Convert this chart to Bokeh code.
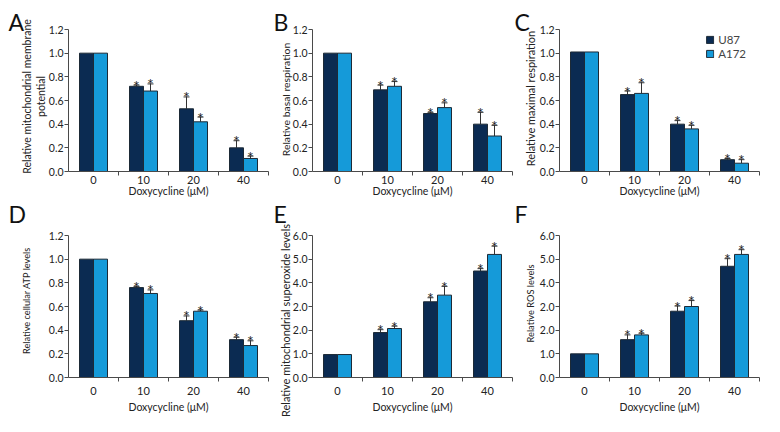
import math
import numpy as np
from bokeh.plotting import figure
from bokeh.layouts import row, column
from bokeh.models import (Range1d, FixedTicker, ColumnDataSource, Whisker, TeeHead,
                          Label, Legend, LegendItem, PrintfTickFormatter)
from bokeh.transform import dodge
from bokeh.core.properties import value
from bokeh.embed import file_html
from bokeh.resources import INLINE

FONT = "Lato"

doses = ["0", "10", "20", "40"]
cells = ["U87", "A172"]
cell_colors = ["#0b2b52", "#159ad9"]
x_title = "Doxycycline (\u03bcM)"

letters = ["A", "B", "C", "D", "E", "F"]
ylabels = ["Relative mitochondrial membrane\npotential",
           "Relative basal respiration",
           "Relative maximal respiration",
           "Relative cellular ATP levels",
           "Relative mitochondrial superoxide levels",
           "Relative ROS levels"]

# A: mitochondrial membrane potential
mmp_u87 = [1.00, 0.72, 0.53, 0.20]
mmp_u87_err = [0.0, 0.01, 0.10, 0.06]
mmp_a172 = [1.00, 0.68, 0.42, 0.11]
mmp_a172_err = [0.0, 0.06, 0.04, 0.02]
# B: basal respiration
basal_u87 = [1.00, 0.69, 0.49, 0.40]
basal_u87_err = [0.0, 0.04, 0.01, 0.10]
basal_a172 = [1.00, 0.72, 0.54, 0.30]
basal_a172_err = [0.0, 0.04, 0.04, 0.09]
# C: maximal respiration
max_u87 = [1.01, 0.65, 0.40, 0.10]
max_u87_err = [0.0, 0.03, 0.03, 0.01]
max_a172 = [1.01, 0.66, 0.36, 0.07]
max_a172_err = [0.0, 0.09, 0.03, 0.03]
# D: cellular ATP
atp_u87 = [1.00, 0.76, 0.48, 0.32]
atp_u87_err = [0.0, 0.01, 0.04, 0.02]
atp_a172 = [1.00, 0.71, 0.56, 0.27]
atp_a172_err = [0.0, 0.03, 0.01, 0.04]
# E: mitochondrial superoxide
sox_u87 = [0.97, 1.90, 3.20, 4.50]
sox_u87_err = [0.0, 0.12, 0.17, 0.10]
sox_a172 = [0.97, 2.07, 3.48, 5.20]
sox_a172_err = [0.0, 0.10, 0.37, 0.35]
# F: ROS
ros_u87 = [1.00, 1.60, 2.80, 4.70]
ros_u87_err = [0.0, 0.20, 0.22, 0.32]
ros_a172 = [1.00, 1.80, 3.00, 5.20]
ros_a172_err = [0.0, 0.07, 0.25, 0.20]

ticks_small = [0.0, 0.2, 0.4, 0.6, 0.8, 1.0, 1.2]
ticks_large = [0.0, 1.0, 2.0, 3.0, 4.0, 5.0, 6.0]
large_overrides = {3.0: "2.0"}   # as printed in the original figure

panels = [
    (mmp_u87, mmp_u87_err, mmp_a172, mmp_a172_err, ticks_small, {}),
    (basal_u87, basal_u87_err, basal_a172, basal_a172_err, ticks_small, {}),
    (max_u87, max_u87_err, max_a172, max_a172_err, ticks_small, {}),
    (atp_u87, atp_u87_err, atp_a172, atp_a172_err, ticks_small, {}),
    (sox_u87, sox_u87_err, sox_a172, sox_a172_err, ticks_large, large_overrides),
    (ros_u87, ros_u87_err, ros_a172, ros_a172_err, ticks_large, large_overrides),
]

# ---- layout geometry (pixels) ----
col_w = [270, 243, 266]          # figure widths
col_axis = [68, 42, 46]          # y axis distance from figure left
row_h = [199, 233]               # figure heights
row_above = [29, 36]             # space above the top tick
row_below = [28, 55]             # space below the zero line
PLOT_W = 200                     # width of the category area
PLOT_H = 142                     # height of the value area
letter_x = [8, 3, 1]
letter_mid = [177.5, 219]        # letter centre from figure bottom
xlab_standoff = [0, 5]
xtitle_standoff = [-2, 3]
# y-axis title placement (centre, from figure bottom-left) and size
ylab_pos = [(33.5, 103), (15.5, 100), (17, 101), (26, 132), (14.5, 112), (17, 129)]
ylab_size = ["10.5px", "10.4px", "11px", "9.2px", "11px", "9.25px"]

BAR_W = 0.28
offsets = [-BAR_W / 2, BAR_W / 2]
xc = list(np.arange(len(doses)) + 0.5)
ncat = len(doses)

figs = []
for i, (u, ue, a, ae, yt, ov) in enumerate(panels):
    r, c = divmod(i, 3)
    xu = ncat / PLOT_W
    yu = (yt[-1] - yt[0]) / PLOT_H
    xr = Range1d(-col_axis[c] * xu, ncat + (col_w[c] - col_axis[c] - PLOT_W) * xu)
    yr = Range1d(yt[0] - row_below[r] * yu, yt[-1] + row_above[r] * yu)
    p = figure(width=col_w[c], height=row_h[r], output_backend="svg", toolbar_location=None,
               x_range=xr, y_range=yr, min_border=0,
               min_border_left=0, min_border_right=0, min_border_top=0, min_border_bottom=0)
    p.outline_line_color = None
    p.xgrid.visible = False
    p.ygrid.visible = False
    p.background_fill_color = "white"
    p.border_fill_color = "white"

    renderers = []
    for k, (vals, errs) in enumerate([(u, ue), (a, ae)]):
        src = ColumnDataSource(dict(xc=xc, top=vals))
        rr = p.vbar(x=dodge("xc", offsets[k], range=p.x_range), top="top", width=BAR_W,
                    source=src, fill_color=cell_colors[k], line_color="#1d2a36", line_width=1)
        renderers.append(rr)
        sig = [j for j in range(ncat) if j > 0]
        ssrc = ColumnDataSource(dict(xc=[xc[j] for j in sig], top=[vals[j] for j in sig],
                                     upper=[vals[j] + errs[j] for j in sig],
                                     star=["*" for j in sig]))
        w = Whisker(base=dodge("xc", offsets[k], range=p.x_range), lower="top", upper="upper",
                    source=ssrc, line_color="#333333", line_width=1,
                    upper_head=TeeHead(size=6, line_color="#333333", line_width=1), lower_head=None)
        p.add_layout(w)
        p.text(x=dodge("xc", offsets[k], range=p.x_range), y="upper", text="star", source=ssrc,
               text_align="center", text_baseline="alphabetic", y_offset=0,
               text_font=value(FONT), text_font_size="16px", text_color="#222222")

    # x axis (drawn at the zero line)
    xa = p.xaxis[0]
    xa.fixed_location = 0
    xa.bounds = (0, ncat)
    xa.ticker = FixedTicker(ticks=xc, minor_ticks=list(range(1, ncat + 1)))
    xa.major_label_overrides = {x: d for x, d in zip(xc, doses)}
    xa.major_tick_out = 0
    xa.major_tick_in = 0
    xa.minor_tick_out = 4
    xa.minor_tick_in = 0
    xa.axis_label = x_title
    # y axis (drawn at the category start)
    ya = p.yaxis[0]
    ya.fixed_location = 0
    ya.bounds = (yt[0], yt[-1])
    ya.ticker = FixedTicker(ticks=yt, minor_ticks=[])
    ya.formatter = PrintfTickFormatter(format="%.1f")
    if ov:
        ya.major_label_overrides = ov
    ya.major_tick_out = 4
    ya.major_tick_in = 0
    ya.minor_tick_out = 0
    for ax in (xa, ya):
        ax.axis_line_color = "#4a4a4a"
        ax.major_tick_line_color = "#4a4a4a"
        ax.minor_tick_line_color = "#4a4a4a"
        ax.major_label_text_font = FONT
        ax.major_label_text_font_size = "11px"
        ax.major_label_text_color = "#222222"
        ax.axis_label_text_font = FONT
        ax.axis_label_text_font_size = "10.5px"
        ax.axis_label_text_font_style = "normal"
        ax.axis_label_text_color = "#222222"
    ya.major_label_text_font_size = "10.5px"
    ya.major_label_standoff = 1
    xa.major_label_standoff = xlab_standoff[r]
    xa.axis_label_standoff = xtitle_standoff[r]

    # y-axis title, rotated
    p.add_layout(Label(x=ylab_pos[i][0], y=ylab_pos[i][1], x_units="screen", y_units="screen",
                       text=ylabels[i], angle=math.pi / 2, text_align="center",
                       text_baseline="middle", text_line_height=1.1,
                       text_font=FONT, text_font_size=ylab_size[i], text_color="#222222"))
    # panel letter
    p.add_layout(Label(x=letter_x[c], y=letter_mid[r], x_units="screen", y_units="screen",
                       text=letters[i], text_font=FONT, text_font_size="23px",
                       text_baseline="middle", text_color="#111111"))

    if i == 2:
        leg = Legend(items=[LegendItem(label=cells[k], renderers=[renderers[k]]) for k in range(2)],
                     location="top_right", padding=0, margin=33, spacing=1,
                     glyph_width=9, glyph_height=9, label_height=12, label_standoff=4,
                     label_text_font=FONT, label_text_font_size="11.5px",
                     border_line_color=None, background_fill_alpha=0)
        p.add_layout(leg)
    figs.append(p)

layout = column(row(*figs[0:3]), row(*figs[3:6]))
open("out.html", "w").write(file_html(layout, INLINE))
